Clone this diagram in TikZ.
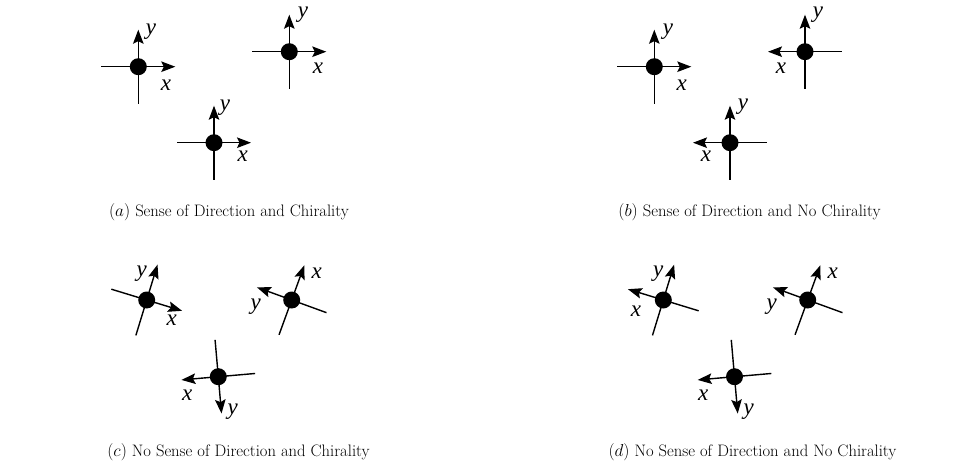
\documentclass[tikz,border=0pt]{standalone}
\usepackage{fontspec}
\newfontfamily\lblfont{Liberation Serif}
\usetikzlibrary{arrows.meta,calc}
\tikzset{
  arm/.style={line width=1.4pt},
  axisarrow/.style={line width=1.4pt,-{Stealth[length=14pt,width=10.5pt,inset=2.5pt]}},
  robotdot/.style={circle,fill=black,inner sep=0pt,minimum size=17pt},
  lbl/.style={font=\lblfont\fontsize{23}{23}\selectfont\itshape,inner sep=0pt},
  captext/.style={font=\fontsize{16.6}{19}\selectfont,inner sep=0pt}
}
% #1 name, #2 position, #3 x angle, #4 y angle, #5 x label pos, #6 y label pos
\newcommand{\myrobot}[6]{%
  \node[robotdot] (#1) at (#2) {};
  \coordinate (#1xe) at ($(#1)+(#3:37)$);
  \coordinate (#1xb) at ($(#1)+(#3+180:37)$);
  \coordinate (#1ye) at ($(#1)+(#4:37)$);
  \coordinate (#1yb) at ($(#1)+(#4+180:37)$);
  \draw[arm] (#1.center) -- (#1xb);
  \draw[arm] (#1.center) -- (#1yb);
  \draw[axisarrow] (#1.center) -- (#1xe);
  \draw[axisarrow] (#1.center) -- (#1ye);
  \node[lbl] (#1xl) at (#5) {x};
  \node[lbl] (#1yl) at (#6) {y};
}
\begin{document}
\begin{tikzpicture}[x=1pt,y=1pt]
\useasboundingbox (0,0) rectangle (969,467);
% (a)
\myrobot{aA}{138.3,400.3}{0}{90}{166,382}{151,435}
\myrobot{aB}{289.3,415.3}{0}{90}{318,399}{303,452}
\myrobot{aC}{214,324.3}{0}{90}{242.7,310.3}{225,359}
% (b)
\myrobot{bA}{654.3,400.3}{0}{90}{681.7,382}{668,435}
\myrobot{bB}{805,415.3}{180}{90}{781,398.7}{818,452}
\myrobot{bC}{730,324.3}{180}{90}{706,310.3}{743,360}
% (c)
\myrobot{cA}{146.7,167}{-17}{73}{171.7,147}{141.7,193.7}
\myrobot{cB}{291.7,167}{70}{160}{316.7,193.7}{255.7,160.3}
\myrobot{cC}{218.3,90.3}{185}{275}{187.3,72}{232.7,55.3}
% (d)
\myrobot{dA}{663.3,167}{163}{73}{636,155.3}{658.3,193.7}
\myrobot{dB}{807.7,167}{70}{160}{832.7,193.7}{771.7,160.3}
\myrobot{dC}{734.5,90.3}{185}{275}{703.3,72}{748.7,55.3}
% captions
\node[captext] (capa) at (229,255) {$(a)$ Sense of Direction and Chirality};
\node[captext] (capb) at (749.5,255) {$(b)$ Sense of Direction and No Chirality};
\node[captext] (capc) at (238.5,15) {$(c)$ No Sense of Direction and Chirality};
\node[captext] (capd) at (752.5,15) {$(d)$ No Sense of Direction and No Chirality};
\end{tikzpicture}
\end{document}
